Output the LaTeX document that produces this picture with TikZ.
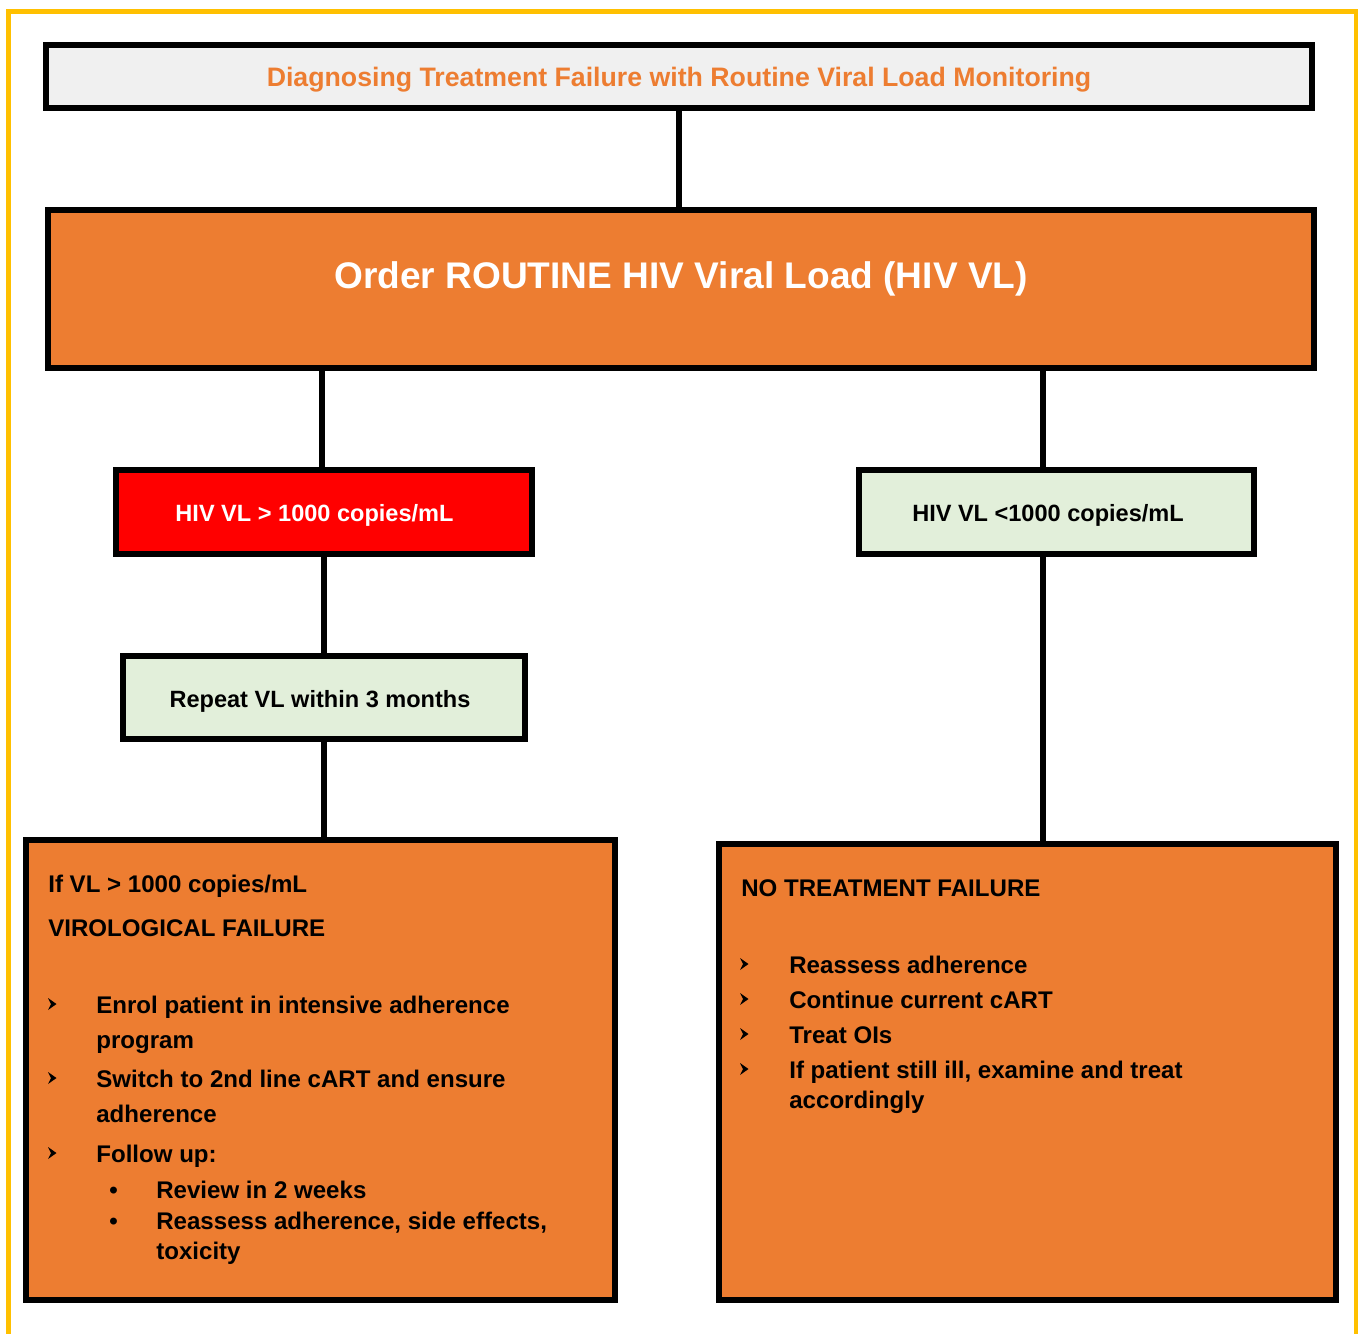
\documentclass[tikz,border=0pt]{standalone}
\usepackage{fontspec}
\setmainfont{Liberation Sans}
\usetikzlibrary{positioning}
\definecolor{vlorange}{HTML}{ED7D31}
\definecolor{vlgreen}{HTML}{E2EFDA}
\definecolor{vlgrey}{HTML}{F0F0F0}
\definecolor{vlyellow}{HTML}{FFC000}
\tikzset{
  box/.style={draw=black, line width=3.4pt, inner sep=0pt},
  link/.style={line width=3pt},
  boxtext/.style={font=\bfseries\fontsize{13.4}{16}\selectfont, text depth=0pt},
  txt/.style={font=\bfseries\fontsize{13.7}{16}\selectfont, anchor=base west, inner sep=0pt},
  arrowbullet/.pic={\fill (-4,-6) -- (4.5,0) -- (-4,6) -- (-1,0) -- cycle;}
}
\begin{document}
\begin{tikzpicture}[x=0.02cm, y=-0.02cm]
\useasboundingbox (0,0) rectangle (1359,1333);
\draw[vlyellow, line width=2.6pt] (8.5,1340) -- (8.5,11.5) -- (1356,11.5) -- (1356,1340);
% the boxes
\node[box, fill=vlgrey, minimum width=25.32cm, minimum height=1.26cm, text depth=0pt,
  font=\bfseries\fontsize{15.2}{18}\selectfont, text=vlorange] (title) at (679,76.5)
  {Diagnosing Treatment Failure with Routine Viral Load Monitoring};
\node[box, fill=vlorange, minimum width=25.32cm, minimum height=3.16cm] (order) at (681,289) {};
\node[font=\bfseries\fontsize{21.1}{25}\selectfont, text=white, text depth=0pt] (ordertext) at (681,275)
  {Order ROUTINE HIV Viral Load (HIV VL)};
\node[box, fill=red, minimum width=8.34cm, minimum height=1.68cm] (high) at (324,512) {};
\node[boxtext, text=white] (hightext) at (314.5,513) {HIV VL > 1000 copies/mL};
\node[box, fill=vlgreen, minimum width=7.90cm, minimum height=1.68cm] (low) at (1056.5,512) {};
\node[boxtext] (lowtext) at (1048,513) {HIV VL <1000 copies/mL};
\node[box, fill=vlgreen, minimum width=8.06cm, minimum height=1.66cm] (repeat) at (324,697.5) {};
\node[boxtext] (repeattext) at (320,699) {Repeat VL within 3 months};
\node[box, fill=vlorange, minimum width=11.78cm, minimum height=9.20cm] (fail) at (320.5,1070) {};
\node[box, fill=vlorange, minimum width=12.34cm, minimum height=9.12cm] (nofail) at (1027.5,1072) {};
% the connectors
\coordinate (rj) at (1043,0);
\coordinate (lj) at (322,0);
\draw[link] (title.south) -- (title.south |- order.north);
\draw[link] (order.south -| lj) -- (high.north -| lj);
\draw[link] (high.south) -- (repeat.north);
\draw[link] (repeat.south) -- (repeat.south |- fail.north);
\draw[link] (order.south -| rj) -- (low.north -| rj);
\draw[link] (low.south -| rj) -- (nofail.north -| rj);
% left box
\node[txt] (failhead) at (48,892) {If VL > 1000 copies/mL};
\node[txt] (failname) at (48,936) {VIROLOGICAL FAILURE};
\pic at (52,1004) {arrowbullet};
\pic at (52,1078) {arrowbullet};
\pic at (52,1153) {arrowbullet};
\node[txt] (enrol) at (96,1013) {Enrol patient in intensive adherence};
\node[txt] (enrolb) at (96,1048) {program};
\node[txt] (switch) at (96,1087) {Switch to 2nd line cART and ensure};
\node[txt] (switchb) at (96,1122) {adherence};
\node[txt] (follow) at (96,1162) {Follow up:};
%     sub items
\node[txt] (dota) at (109,1198) {\textbullet};
\node[txt] (dotb) at (109,1229) {\textbullet};
\node[txt] (review) at (156,1198) {Review in 2 weeks};
\node[txt] (reassess) at (156,1229) {Reassess adherence, side effects,};
\node[txt] (reassessb) at (156,1259) {toxicity};
% right box
\node[txt] (nohead) at (741,896) {NO TREATMENT FAILURE};
\pic at (744,964) {arrowbullet};
\pic at (744,999) {arrowbullet};
\pic at (744,1034) {arrowbullet};
\pic at (744,1069) {arrowbullet};
\node[txt] (adh) at (789,973) {Reassess adherence};
\node[txt] (cont) at (789,1008) {Continue current cART};
\node[txt] (ois) at (789,1043) {Treat OIs};
\node[txt] (ill) at (789,1078) {If patient still ill, examine and treat};
\node[txt] (illb) at (789,1108) {accordingly};
\end{tikzpicture}
\end{document}
